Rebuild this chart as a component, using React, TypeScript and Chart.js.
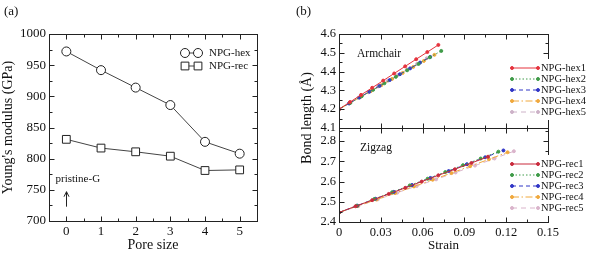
import React, { useEffect, useRef } from 'react';
import { Chart, registerables } from 'chart.js';

Chart.register(...registerables);

const FONT = "'Liberation Serif', 'Times New Roman', serif";

// ---------- Panel (a) data ----------
const poreSizes = [0, 1, 2, 3, 4, 5];
const modulusHex = [972, 942, 914, 886, 827, 808];
const modulusRec = [831, 817, 811, 804, 781, 782];
const poreTicks = [0, 1, 2, 3, 4, 5];
const modulusTicks = [700, 750, 800, 850, 900, 950, 1000];
const seriesANames = ['NPG-hex', 'NPG-rec'];

// ---------- Panel (b) data ----------
const strainTicks = [0, 0.03, 0.06, 0.09, 0.12, 0.15];
const armchairTicks = [4.1, 4.2, 4.3, 4.4, 4.5, 4.6];
const zigzagTicks = [2.4, 2.5, 2.6, 2.7, 2.8];

const hexNames = ['NPG-hex1', 'NPG-hex2', 'NPG-hex3', 'NPG-hex4', 'NPG-hex5'];
const hex1Strain = [0, 0.0079, 0.0158, 0.0238, 0.0317, 0.0396, 0.0475, 0.0554, 0.0634, 0.0713];
const hex1Bond = [4.2, 4.238, 4.276, 4.314, 4.352, 4.39, 4.428, 4.466, 4.504, 4.542];
const hex2Strain = [0, 0.0082, 0.0163, 0.0245, 0.0326, 0.0408, 0.0489, 0.0571, 0.0652, 0.0734];
const hex2Bond = [4.2, 4.234, 4.269, 4.303, 4.338, 4.372, 4.407, 4.441, 4.476, 4.51];
const hex3Strain = [0, 0.0073, 0.0146, 0.0218, 0.0291, 0.0364, 0.0437, 0.051, 0.0582, 0.0655];
const hex3Bond = [4.2, 4.231, 4.262, 4.293, 4.324, 4.355, 4.386, 4.417, 4.448, 4.478];
const hex4Strain = [0, 0.0076, 0.0152, 0.0228, 0.0304, 0.0381, 0.0457, 0.0533, 0.0609, 0.0685];
const hex4Bond = [4.2, 4.232, 4.264, 4.296, 4.328, 4.361, 4.393, 4.425, 4.457, 4.489];
const hex5Strain = [0, 0.007, 0.014, 0.021, 0.028, 0.035, 0.042, 0.049, 0.056, 0.063];
const hex5Bond = [4.2, 4.23, 4.26, 4.29, 4.321, 4.351, 4.381, 4.411, 4.441, 4.471];

const recNames = ['NPG-rec1', 'NPG-rec2', 'NPG-rec3', 'NPG-rec4', 'NPG-rec5'];
const rec1Strain = [0, 0.0119, 0.0238, 0.0357, 0.0476, 0.0594, 0.0713, 0.0832, 0.0951, 0.107];
const rec1Bond = [2.447, 2.478, 2.508, 2.539, 2.569, 2.6, 2.631, 2.661, 2.692, 2.723];
const rec2Strain = [0, 0.0127, 0.0254, 0.0381, 0.0508, 0.0636, 0.0763, 0.089, 0.1017, 0.1144];
const rec2Bond = [2.447, 2.48, 2.514, 2.547, 2.581, 2.614, 2.647, 2.681, 2.714, 2.748];
const rec3Strain = [0, 0.0131, 0.0262, 0.0393, 0.0524, 0.0656, 0.0787, 0.0918, 0.1049, 0.118];
const rec3Bond = [2.447, 2.481, 2.515, 2.549, 2.583, 2.618, 2.652, 2.686, 2.72, 2.754];
const rec4Strain = [0, 0.0134, 0.0269, 0.0403, 0.0538, 0.0672, 0.0807, 0.0941, 0.1076, 0.121];
const rec4Bond = [2.447, 2.479, 2.511, 2.543, 2.576, 2.609, 2.642, 2.676, 2.71, 2.745];
const rec5Strain = [0, 0.0139, 0.0279, 0.0418, 0.0558, 0.0697, 0.0837, 0.0976, 0.1116, 0.1255];
const rec5Bond = [2.447, 2.479, 2.512, 2.545, 2.578, 2.611, 2.645, 2.679, 2.714, 2.75];

const hexStrains = [hex1Strain, hex2Strain, hex3Strain, hex4Strain, hex5Strain];
const hexBonds = [hex1Bond, hex2Bond, hex3Bond, hex4Bond, hex5Bond];
const recStrains = [rec1Strain, rec2Strain, rec3Strain, rec4Strain, rec5Strain];
const recBonds = [rec1Bond, rec2Bond, rec3Bond, rec4Bond, rec5Bond];

const hexColors = ['#e5333d', '#3f9b48', '#3136c6', '#f0a83c', '#cdb2c8'];
const recColors = ['#c92a3c', '#3f9b48', '#3136c6', '#f0a83c', '#dab4cb'];
const dashes = [[], [1.5, 2], [4, 3], [7, 2.5, 1.5, 2.5], [5, 4]];

// ---------- helpers ----------
function minorValues(scale: any): number[] {
  const vals: number[] = scale.ticks.map((t: any) => t.value);
  const out: number[] = [];
  if (vals.length < 2) return out;
  const step = vals[1] - vals[0];
  const eps = Math.abs(step) * 1e-6;
  for (let v = vals[0] - step / 2; v > scale.min + eps; v -= step) out.push(v);
  for (let i = 0; i < vals.length - 1; i++) out.push((vals[i] + vals[i + 1]) / 2);
  for (let v = vals[vals.length - 1] + step / 2; v < scale.max - eps; v += step) out.push(v);
  return out;
}

function drawFrame(ctx: CanvasRenderingContext2D, xs: any, ys: any, left: number, right: number, top: number, bottom: number) {
  const L = Math.round(left) + 0.5;
  const R = Math.round(right) + 0.5;
  const T = Math.round(top) + 0.5;
  const B = Math.round(bottom) + 0.5;
  ctx.save();
  ctx.strokeStyle = '#222';
  ctx.lineWidth = 1;
  ctx.setLineDash([]);
  ctx.strokeRect(L, T, R - L, B - T);
  ctx.beginPath();
  const xMaj = xs.ticks.map((t: any) => t.value);
  const xMin = minorValues(xs);
  const addX = (v: number, len: number) => {
    const p = Math.round(xs.getPixelForValue(v)) + 0.5;
    if (p <= L + 0.6 || p >= R - 0.6) return;
    ctx.moveTo(p, B); ctx.lineTo(p, B - len);
    ctx.moveTo(p, T); ctx.lineTo(p, T + len);
  };
  xMaj.forEach((v: number) => addX(v, 5));
  xMin.forEach((v: number) => addX(v, 3));
  const yMaj = ys.ticks.map((t: any) => t.value);
  const yMin = minorValues(ys);
  const addY = (v: number, len: number) => {
    const p = Math.round(ys.getPixelForValue(v)) + 0.5;
    if (p <= T + 0.6 || p >= B - 0.6) return;
    ctx.moveTo(L, p); ctx.lineTo(L + len, p);
    ctx.moveTo(R, p); ctx.lineTo(R - len, p);
  };
  yMaj.forEach((v: number) => addY(v, 5));
  yMin.forEach((v: number) => addY(v, 3));
  ctx.stroke();
  ctx.restore();
}

function text(ctx: CanvasRenderingContext2D, s: string, x: number, y: number, size: number, align: CanvasTextAlign = 'left', rot = 0) {
  ctx.save();
  ctx.fillStyle = '#111';
  ctx.font = `${size}px ${FONT}`;
  ctx.textAlign = align;
  ctx.textBaseline = 'middle';
  ctx.translate(x, y);
  if (rot) ctx.rotate(rot);
  ctx.fillText(s, 0, 0);
  ctx.restore();
}

function marker(ctx: CanvasRenderingContext2D, style: string, x: number, y: number, r: number, stroke: string, fill: string) {
  ctx.beginPath();
  if (style === 'rect') {
    const s = Math.SQRT1_2 * r;
    ctx.rect(x - s, y - s, 2 * s, 2 * s);
  } else {
    ctx.arc(x, y, r, 0, Math.PI * 2);
  }
  ctx.fillStyle = fill;
  ctx.fill();
  ctx.strokeStyle = stroke;
  ctx.lineWidth = 1;
  ctx.stroke();
}

// ---------- plugins ----------
const decorA = {
  id: 'decorA',
  afterDraw(chart: any) {
    const ctx: CanvasRenderingContext2D = chart.ctx;
    const xs = chart.scales.x;
    const ys = chart.scales.y;
    const a = chart.chartArea;
    drawFrame(ctx, xs, ys, a.left, a.right, a.top, a.bottom);
    text(ctx, '(a)', 4, 12, 13);
    // arrow for pristine graphene
    const ax = Math.round(xs.getPixelForValue(0)) + 0.5;
    const y0 = ys.getPixelForValue(723);
    const y1 = ys.getPixelForValue(747);
    ctx.save();
    ctx.strokeStyle = '#222';
    ctx.lineWidth = 1;
    ctx.beginPath();
    ctx.moveTo(ax, y0); ctx.lineTo(ax, y1);
    ctx.moveTo(ax - 2.5, y1 + 5); ctx.lineTo(ax, y1); ctx.lineTo(ax + 2.5, y1 + 5);
    ctx.stroke();
    ctx.restore();
    text(ctx, 'pristine-G', ax - 11, ys.getPixelForValue(767), 11);
    // legend
    const ds = chart.data.datasets;
    for (let i = 0; i < 2; i++) {
      const yy = a.top + 19 + 13 * i;
      const x0 = a.right - 72;
      const x1 = a.right - 59;
      ctx.save();
      ctx.strokeStyle = '#444';
      ctx.lineWidth = 1;
      ctx.beginPath();
      ctx.moveTo(x0, yy); ctx.lineTo(x1, yy);
      ctx.stroke();
      marker(ctx, ds[i].pointStyle, x0, yy, ds[i].pointRadius, '#222', '#fff');
      marker(ctx, ds[i].pointStyle, x1, yy, ds[i].pointRadius, '#222', '#fff');
      ctx.restore();
      text(ctx, seriesANames[i], a.right - 48, yy, 11);
    }
  },
};

function drawLegendB(ctx: CanvasRenderingContext2D, chart: any, startIdx: number, names: string[], top: number) {
  const a = chart.chartArea;
  const ds = chart.data.datasets;
  const rowH = 11;
  ctx.save();
  ctx.fillStyle = '#fff';
  ctx.fillRect(a.right - 40, top - 9, chart.width - (a.right - 40), rowH * (names.length - 1) + 17);
  ctx.restore();
  names.forEach((n, i) => {
    const d = ds[startIdx + i];
    const yy = top + rowH * i;
    const x0 = a.right - 36;
    const x1 = a.right - 10;
    ctx.save();
    ctx.strokeStyle = d.borderColor;
    ctx.lineWidth = 1;
    ctx.setLineDash(d.borderDash || []);
    ctx.beginPath();
    ctx.moveTo(x0, yy); ctx.lineTo(x1, yy);
    ctx.stroke();
    ctx.setLineDash([]);
    marker(ctx, 'circle', x0, yy, 1.5, d.borderColor, d.borderColor);
    marker(ctx, 'circle', x1, yy, 1.5, d.borderColor, d.borderColor);
    ctx.restore();
    text(ctx, n, a.right - 7, yy, 10.5);
  });
}

const decorB = {
  id: 'decorB',
  afterDraw(chart: any) {
    const ctx: CanvasRenderingContext2D = chart.ctx;
    const xs = chart.scales.x;
    const yT = chart.scales.yTop;
    const yB = chart.scales.yBot;
    const a = chart.chartArea;
    drawFrame(ctx, xs, yT, a.left, a.right, yT.top, yT.bottom);
    drawFrame(ctx, xs, yB, a.left, a.right, yB.top, yB.bottom);
    text(ctx, '(b)', 1, 12, 13);
    text(ctx, 'Armchair', a.left + 18, yT.top + 20, 11.5);
    text(ctx, 'Zigzag', a.left + 21, yB.top + 20, 11.5);
    text(ctx, 'Bond length (Å)', 12, 118, 14, 'center', -Math.PI / 2);
    drawLegendB(ctx, chart, 0, hexNames, yT.top + 34);
    drawLegendB(ctx, chart, 5, recNames, yB.top + 36);
  },
};

// ---------- configs ----------
const tickFont = { family: FONT, size: 13 };

function configA(): any {
  return {
    type: 'line',
    data: {
      datasets: [
        {
          label: seriesANames[0],
          data: poreSizes.map((x, i) => ({ x, y: modulusHex[i] })),
          borderColor: '#444',
          borderWidth: 1,
          pointStyle: 'circle',
          pointRadius: 4.5,
          pointBorderColor: '#222',
          pointBackgroundColor: '#fff',
          pointBorderWidth: 1,
        },
        {
          label: seriesANames[1],
          data: poreSizes.map((x, i) => ({ x, y: modulusRec[i] })),
          borderColor: '#444',
          borderWidth: 1,
          pointStyle: 'rect',
          pointRadius: 5.5,
          pointBorderColor: '#222',
          pointBackgroundColor: '#fff',
          pointBorderWidth: 1,
        },
      ],
    },
    options: {
      responsive: false,
      animation: false,
      devicePixelRatio: 1,
      layout: { padding: { top: 34, right: 38, left: 0, bottom: 0 } },
      plugins: { legend: { display: false }, tooltip: { enabled: false } },
      scales: {
        x: {
          type: 'linear',
          min: -0.5,
          max: 5.5,
          afterBuildTicks: (s: any) => { s.ticks = poreTicks.map((v) => ({ value: v })); },
          afterFit: (s: any) => { s.height = 35; },
          grid: { display: false, drawTicks: false },
          border: { display: false },
          ticks: { font: tickFont, color: '#111', padding: 3, autoSkip: false, maxRotation: 0, callback: (v: any) => String(v) },
          title: { display: true, text: 'Pore size', font: { family: FONT, size: 14 }, color: '#111', padding: { top: 0, bottom: 2 } },
        },
        y: {
          type: 'linear',
          min: 700,
          max: 1000,
          afterBuildTicks: (s: any) => { s.ticks = modulusTicks.map((v) => ({ value: v })); },
          afterFit: (s: any) => { s.width = 49; },
          grid: { display: false, drawTicks: false },
          border: { display: false },
          ticks: { font: tickFont, color: '#111', padding: 3, autoSkip: false, callback: (v: any) => String(v) },
          title: { display: true, text: "Young's modulus (GPa)", font: { family: FONT, size: 14 }, color: '#111', padding: { top: 0, bottom: 0 } },
        },
      },
    },
    plugins: [decorA],
  };
}

function configB(): any {
  const hexSets = hexNames.map((n, k) => ({
    label: n,
    yAxisID: 'yTop',
    data: hexStrains[k].map((x, i) => ({ x, y: hexBonds[k][i] })),
    borderColor: hexColors[k],
    backgroundColor: hexColors[k],
    borderDash: dashes[k],
    borderWidth: 1,
    pointRadius: 1.5,
    pointBorderWidth: 1,
    pointBackgroundColor: hexColors[k],
    pointBorderColor: hexColors[k],
  }));
  const recSets = recNames.map((n, k) => ({
    label: n,
    yAxisID: 'yBot',
    data: recStrains[k].map((x, i) => ({ x, y: recBonds[k][i] })),
    borderColor: recColors[k],
    backgroundColor: recColors[k],
    borderDash: dashes[k],
    borderWidth: 1,
    pointRadius: 1.5,
    pointBorderWidth: 1,
    pointBackgroundColor: recColors[k],
    pointBorderColor: recColors[k],
  }));
  const tickB = { family: FONT, size: 12.5 };
  return {
    type: 'line',
    data: { datasets: [...hexSets, ...recSets] },
    options: {
      responsive: false,
      animation: false,
      devicePixelRatio: 1,
      layout: { padding: { top: 34, right: 41, left: 0, bottom: 0 } },
      plugins: { legend: { display: false }, tooltip: { enabled: false } },
      scales: {
        x: {
          type: 'linear',
          min: 0,
          max: 0.15,
          afterBuildTicks: (s: any) => { s.ticks = strainTicks.map((v) => ({ value: v })); },
          afterFit: (s: any) => { s.height = 34; },
          grid: { display: false, drawTicks: false },
          border: { display: false },
          ticks: { font: tickB, color: '#111', padding: 3, autoSkip: false, maxRotation: 0, callback: (v: any) => (v === 0 ? '0' : Number(v).toFixed(2)) },
          title: { display: true, text: 'Strain', font: { family: FONT, size: 13 }, color: '#111', padding: { top: 0, bottom: 3 } },
        },
        yBot: {
          type: 'linear',
          position: 'left',
          stack: 'bond',
          stackWeight: 1,
          min: 2.4,
          max: 2.865,
          afterBuildTicks: (s: any) => { s.ticks = zigzagTicks.map((v) => ({ value: v })); },
          afterFit: (s: any) => { s.width = 44; },
          grid: { display: false, drawTicks: false },
          border: { display: false },
          ticks: { font: tickB, color: '#111', padding: 3, autoSkip: false, callback: (v: any) => Number(v).toFixed(1) },
        },
        yTop: {
          type: 'linear',
          position: 'left',
          stack: 'bond',
          stackWeight: 1,
          min: 4.1,
          max: 4.6,
          afterBuildTicks: (s: any) => { s.ticks = armchairTicks.map((v) => ({ value: v })); },
          afterFit: (s: any) => { s.width = 44; },
          grid: { display: false, drawTicks: false },
          border: { display: false },
          ticks: { font: tickB, color: '#111', padding: 3, autoSkip: false, callback: (v: any) => Number(v).toFixed(1) },
        },
      },
    },
    plugins: [decorB],
  };
}

export default function App() {
  const aRef = useRef<HTMLCanvasElement>(null);
  const bRef = useRef<HTMLCanvasElement>(null);
  useEffect(() => {
    const a = new Chart(aRef.current as HTMLCanvasElement, configA());
    const b = new Chart(bRef.current as HTMLCanvasElement, configB());
    return () => {
      a.destroy();
      b.destroy();
    };
  }, []);
  return (
    <div style={{ position: 'absolute', left: 0, top: 0, width: 589, height: 256, background: '#fff', overflow: 'hidden' }}>
      <canvas ref={aRef} width={295} height={256} style={{ position: 'absolute', left: 0, top: 0 }} />
      <canvas ref={bRef} width={294} height={256} style={{ position: 'absolute', left: 295, top: 0 }} />
    </div>
  );
}
